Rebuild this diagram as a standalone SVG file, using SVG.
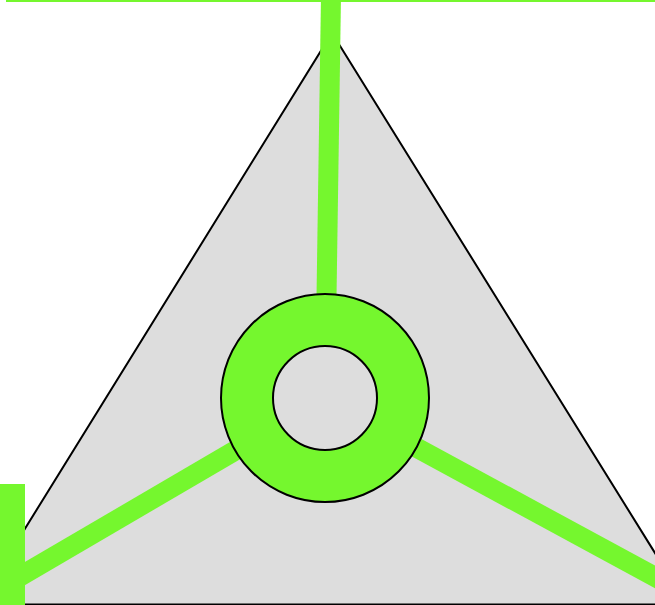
<svg xmlns="http://www.w3.org/2000/svg" width="655" height="605" viewBox="0 0 655 605">
<style>
.tri{fill:#dddddd;stroke:#000;stroke-width:2}
.spoke{stroke:#75f72e;stroke-width:20;fill:none}
.ring{fill:#75f72e;stroke:#000;stroke-width:2}
.hole{fill:#dddddd;stroke:#000;stroke-width:2}
.bar{fill:#75f72e}
</style>
<g id="triangle">
<polygon class="tri" points="332,33 687,604.5 -22,604.5"/>
</g>
<g id="connectors">
<rect class="bar" x="6" y="0" width="649" height="2"/>
<line class="spoke" x1="331" y1="-5" x2="325" y2="398"/>
<line class="spoke" x1="325" y1="398" x2="-10" y2="594"/>
<line class="spoke" x1="325" y1="398" x2="680" y2="590.5"/>
<rect class="bar" x="0" y="484" width="25" height="121"/>
</g>
<g id="ring">
<circle class="ring" cx="325" cy="398" r="104"/>
<circle class="hole" cx="325" cy="398" r="52"/>
</g>
</svg>
